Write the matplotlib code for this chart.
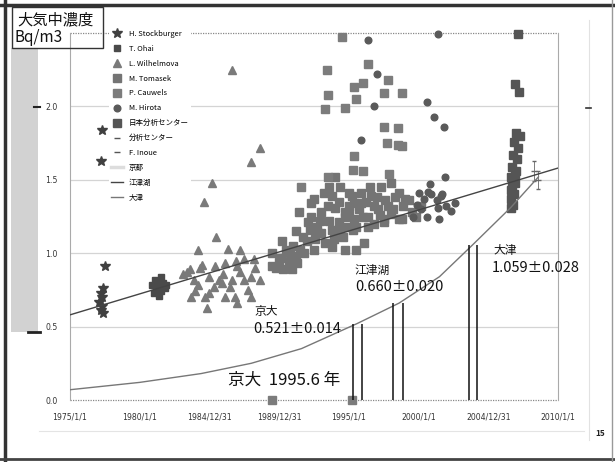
import matplotlib
matplotlib.use("Agg")
import matplotlib.pyplot as plt
from matplotlib.lines import Line2D
from matplotlib.patches import Rectangle

plt.rcParams['font.family'] = ['Noto Sans CJK JP', 'DejaVu Sans']

# ---- data (decimal year, Bq/m3) ----
stock_year = [1977.3, 1977.2, 1977.5, 1977.4, 1977.2, 1977.3, 1977.1, 1977.3, 1977.2, 1977.4]
stock_val = [1.84, 1.63, 0.91, 0.76, 0.73, 0.70, 0.67, 0.64, 0.61, 0.59]

ohai_year = [1980.9, 1981.1, 1981.3, 1981.5, 1981.7, 1981.9, 1981.2, 1981.5, 1981.8, 1981.4, 1981.0]
ohai_val = [0.78, 0.82, 0.80, 0.84, 0.80, 0.78, 0.75, 0.74, 0.76, 0.71, 0.73]

wil_year = [1986.6, 1988.6, 1988.0, 1985.2, 1984.6, 1985.5, 1986.3, 1987.2, 1988.2, 1983.6,
            1984.3, 1985.4, 1986.1, 1987.0, 1987.5, 1983.9, 1985.0, 1985.7, 1985.9, 1986.6,
            1987.5, 1988.0, 1988.6, 1985.3, 1986.5, 1987.8, 1983.7, 1984.7, 1986.1, 1986.8,
            1988.0, 1984.8, 1983.4, 1984.2, 1987.2, 1984.2, 1983.1, 1984.0, 1985.0, 1986.0,
            1987.0, 1988.3, 1984.5, 1986.9]
wil_val = [2.25, 1.72, 1.62, 1.48, 1.35, 1.11, 1.03, 1.02, 0.96, 0.89,
           0.90, 0.91, 0.93, 0.91, 0.96, 0.82, 0.84, 0.82, 0.80, 0.82,
           0.82, 0.84, 0.82, 0.77, 0.77, 0.75, 0.70, 0.70, 0.70, 0.70,
           0.70, 0.63, 0.87, 0.78, 0.87, 1.02, 0.86, 0.74, 0.73, 0.86,
           0.66, 0.90, 0.92, 0.95]

tom_year = [1989.5, 1990.0, 1989.5, 1990.2, 1990.5, 1990.7, 1990.3, 1990.9, 1991.2, 1991.2,
            1991.7, 1991.4, 1992.3, 1992.2, 1992.0, 1991.8, 1992.5, 1992.5, 1992.9, 1993.0,
            1993.3, 1993.2, 1993.8, 1994.0, 1994.3, 1994.3, 1994.7, 1995.0, 1995.2, 1994.6,
            1995.3, 1995.9, 1996.0, 1996.1, 1995.5, 1994.7, 1989.8, 1992.1, 1992.3, 1992.8,
            1993.8, 1993.5, 1995.0, 1995.4, 1995.5, 1996.4, 1996.8, 1997.5, 1998.2, 1998.8,
            1999.5, 2000.2, 1994.0, 1995.0, 1995.9, 1996.6, 1997.3, 1998.0, 1998.6, 1999.0,
            1998.6, 1993.8, 1994.7, 1995.4, 1996.4, 1997.5, 1997.8, 1997.1, 1990.8, 1991.0,
            1991.5, 1992.6, 1993.0, 1993.6, 1993.9, 1994.2, 1994.9, 1995.7, 1996.2, 1996.8,
            1997.0, 1997.6, 1998.3, 1998.9, 1999.3, 1999.8, 1994.4, 1993.6, 1996.5, 1990.1,
            1991.3, 1992.7, 1997.2, 1998.0]
tom_val = [1.00, 0.94, 0.91, 1.08, 1.02, 0.94, 0.89, 0.89, 0.98, 1.15,
           1.11, 1.28, 1.25, 1.16, 1.08, 1.00, 1.02, 1.37, 1.22, 1.14,
           1.07, 1.41, 1.39, 1.31, 1.35, 1.21, 1.25, 1.32, 1.39, 1.11,
           1.16, 1.41, 1.25, 1.07, 1.02, 1.02, 0.90, 1.21, 1.34, 1.14,
           1.04, 1.32, 1.28, 1.34, 1.18, 1.25, 1.32, 1.21, 1.30, 1.23,
           1.28, 1.32, 1.52, 1.41, 1.34, 1.39, 1.45, 1.48, 1.41, 1.37,
           1.23, 1.16, 1.28, 1.23, 1.18, 1.23, 1.32, 1.30, 1.00, 1.05,
           1.02, 1.10, 1.28, 1.22, 1.10, 1.16, 1.18, 1.30, 1.35, 1.20,
           1.38, 1.36, 1.38, 1.32, 1.36, 1.25, 1.45, 1.45, 1.45, 0.97,
           0.93, 1.18, 1.26, 1.27]

cau_year = [1994.5, 1993.4, 1996.4, 1993.5, 1993.3, 1994.7, 1995.4, 1996.0, 1995.5, 1997.8,
            1997.5, 1998.8, 1997.5, 1998.5, 1997.7, 1998.5, 1998.8, 1995.4, 1995.3, 1996.0,
            1997.9, 1993.5, 1991.6, 1989.5, 1995.2]
cau_val = [2.47, 2.25, 2.29, 2.08, 1.98, 1.99, 2.13, 2.16, 2.05, 2.18,
           2.09, 2.09, 1.86, 1.85, 1.75, 1.74, 1.73, 1.66, 1.57, 1.56,
           1.54, 1.52, 1.45, 0.0, 0.0]

hir_year = [1996.4, 1997.0, 1996.8, 1995.9, 2001.4, 2000.6, 2001.1, 2001.8, 2001.9, 2000.8,
            2001.7, 2001.4, 2000.6, 1999.6, 2000.0, 2000.4, 2000.9, 2001.6, 2000.2, 2001.3,
            2002.0, 2002.3, 2001.5, 2002.6, 2000.7, 1999.9]
hir_val = [2.45, 2.22, 2.00, 1.77, 2.49, 2.03, 1.93, 1.86, 1.52, 1.47,
           1.40, 1.31, 1.25, 1.25, 1.41, 1.37, 1.40, 1.39, 1.30, 1.36,
           1.32, 1.29, 1.23, 1.34, 1.42, 1.33]

jcac_year = [2007.1, 2006.9, 2007.2, 2007.0, 2007.3, 2006.85, 2007.1, 2006.8, 2007.07, 2006.7,
             2007.0, 2006.6, 2006.9, 2006.6, 2006.85, 2006.6, 2006.8, 2006.65, 2006.9, 2006.7]
jcac_val = [2.49, 2.15, 2.10, 1.82, 1.80, 1.76, 1.72, 1.67, 1.64, 1.59,
            1.56, 1.52, 1.48, 1.43, 1.40, 1.37, 1.33, 1.31, 1.54, 1.46]

bunseki_year = [2008.3]
bunseki_val = [1.56]
bunseki_err = [0.07]
inoue_year = [2008.6]
inoue_val = [1.50]
inoue_err = [0.06]

# overall linear trend
trend_year = [1975.0, 2010.0]
trend_val = [0.58, 1.58]

# curve through the site measurements
curve_year = [1975.0, 1980.0, 1984.4, 1988.0, 1991.6, 1995.6, 1998.6, 2001.5, 2003.9, 2006.6, 2008.6]
curve_val = [0.07, 0.12, 0.18, 0.25, 0.35, 0.521, 0.660, 0.84, 1.059, 1.31, 1.52]

# sampling bars for the three sites
site_year = [1995.3, 1995.95, 1998.2, 1998.9, 2003.6, 2004.2]
site_val = [0.521, 0.521, 0.660, 0.660, 1.059, 1.059]

xtick_pos = [1975, 1980, 1985, 1990, 1995, 2000, 2005, 2010]
xtick_lab = ['1975/1/1', '1980/1/1', '1984/12/31', '1989/12/31', '1995/1/1', '2000/1/1', '2004/12/31', '2010/1/1']
ytick_pos = [0.0, 0.5, 1.0, 1.5, 2.0]
ytick_lab = ['0.0', '0.5', '1.0', '1.5', '2.0']

fig = plt.figure(figsize=(6.15, 4.62), dpi=100)
W, H = 615, 462

def fx(px):
    return px / W

def fy(py):
    return 1 - py / H

# slide decorations
fig.add_artist(Line2D([fx(0), fx(615)], [fy(5), fy(5)], color='#333333', lw=2.5))
fig.add_artist(Line2D([fx(5), fx(5)], [fy(0), fy(462)], color='#333333', lw=2.5))
fig.add_artist(Line2D([fx(0), fx(615)], [fy(459), fy(459)], color='#444444', lw=2.0))
fig.add_artist(Line2D([fx(612), fx(612)], [fy(0), fy(462)], color='#999999', lw=1.0))
fig.add_artist(Line2D([fx(589), fx(589)], [fy(20), fy(440)], color='#e2e2e2', lw=0.8))
fig.add_artist(Line2D([fx(586), fx(591)], [fy(108), fy(108)], color='#333333', lw=1.2))
fig.add_artist(Line2D([fx(39), fx(584)], [fy(431), fy(431)], color='#e4e4e4', lw=0.8))
fig.add_artist(Rectangle((fx(11), fy(332)), fx(27), fy(48) - fy(332), color='#d2d2d2', lw=0))
fig.add_artist(Line2D([fx(28), fx(40)], [fy(332), fy(332)], color='#222222', lw=2))
fig.add_artist(Line2D([fx(34), fx(40)], [fy(107), fy(107)], color='#222222', lw=1.5))
fig.text(fx(600), fy(433), '15', fontsize=6, ha='center', va='center', color='#222222', weight='bold')

ax = fig.add_axes([fx(70), fy(400), fx(558) - fx(70), fy(33) - fy(400)])
ax.set_xlim(1975, 2010)
ax.set_ylim(0, 2.5)

for v in [0.5, 1.0, 1.5, 2.0]:
    ax.axhline(v, color='#d4d4d4', lw=0.9, zorder=0)
ax.axhline(2.5, color='#888888', lw=0.9, ls=(0, (1, 1)), zorder=0, clip_on=False)
ax.axhline(0.0, color='#888888', lw=0.9, ls=(0, (1, 1)), zorder=0, clip_on=False)

for s in ['top', 'bottom']:
    ax.spines[s].set_visible(False)
for s in ['left', 'right']:
    ax.spines[s].set_color('#aaaaaa')
    ax.spines[s].set_linewidth(0.8)

ax.set_xticks(xtick_pos)
ax.set_xticklabels(xtick_lab, fontsize=5.6, color='#333333', family='DejaVu Sans')
ax.set_yticks(ytick_pos)
ax.set_yticklabels(ytick_lab, fontsize=5.6, color='#333333', family='DejaVu Sans')
ax.tick_params(length=0, pad=9)

ms = 6.3
h1, = ax.plot(stock_year, stock_val, ls='none', marker='*', ms=7, color='#404040', label='H. Stockburger', zorder=4)
h2, = ax.plot(ohai_year, ohai_val, ls='none', marker='s', ms=5, color='#4a4a4a', label='T. Ohai', zorder=4)
h3, = ax.plot(wil_year, wil_val, ls='none', marker='^', ms=6, color='#7a7a7a', label='L. Wilhelmova', zorder=3)
h4, = ax.plot(tom_year, tom_val, ls='none', marker='s', ms=ms, color='#747474', label='M. Tomasek', zorder=3)
h5, = ax.plot(cau_year, cau_val, ls='none', marker='s', ms=ms, color='#7c7c7c', label='P. Cauwels', zorder=3, clip_on=False)
h6, = ax.plot(hir_year, hir_val, ls='none', marker='o', ms=4.8, color='#5a5a5a', label='M. Hirota', zorder=4, clip_on=False)
h7, = ax.plot(jcac_year, jcac_val, ls='none', marker='s', ms=ms, color='#555555', label='日本分析センター', zorder=4, clip_on=False)
ax.errorbar(bunseki_year, bunseki_val, yerr=bunseki_err, fmt='_', ms=5, color='#666666', elinewidth=0.6, capsize=1.5, zorder=5)
ax.errorbar(inoue_year, inoue_val, yerr=inoue_err, fmt='_', ms=5, color='#666666', elinewidth=0.6, capsize=1.5, zorder=5)
h8 = Line2D([], [], ls='none', marker='_', ms=4, color='#555555', label='分析センター')
h9 = Line2D([], [], ls='none', marker='_', ms=4, color='#555555', label='F. Inoue')
h10 = Line2D([], [], color='#dddddd', lw=2.5, label='京都')
h11, = ax.plot(trend_year, trend_val, color='#444444', lw=1.0, label='江津湖', zorder=5)
h12, = ax.plot(curve_year, curve_val, color='#777777', lw=1.0, label='大津', zorder=5)

ax.vlines(site_year, 0, site_val, color='#111111', lw=1.1, zorder=6)

leg = ax.legend(handles=[h1, h2, h3, h4, h5, h6, h7, h8, h9, h10, h11, h12],
                loc='upper left', bbox_to_anchor=((105 - 70) / (558 - 70), 1.025),
                fontsize=5.4, frameon=True, framealpha=1, edgecolor='none', facecolor='white',
                labelspacing=0.92, handlelength=1.6, handletextpad=0.8, borderpad=0.3)
leg.set_zorder(7)

num = dict(fontsize=10.5, color='#111111', ha='center', va='center', zorder=8, clip_on=False)
cjk = dict(fontsize=8.5, color='#111111', ha='center', va='center', zorder=8, clip_on=False)
ax.text(1989.06, 0.606, '京大', **cjk)
ax.text(1991.3, 0.484, '0.521±0.014', **num)
ax.text(1996.66, 0.886, '江津湖', **cjk)
ax.text(1998.6, 0.770, '0.660±0.020', **num)
ax.text(2006.2, 1.020, '大津', **cjk)
ax.text(2008.4, 0.900, '1.059±0.028', **num)
ax.text(1990.35, 0.136, '京大  1995.6 年', fontsize=12, color='#111111', ha='center', va='center', zorder=8)

# title box
fig.text(fx(55), fy(20), '大気中濃度', fontsize=11, ha='center', va='center', color='#111111')
fig.text(fx(14), fy(37), 'Bq/m3', fontsize=11, ha='left', va='center', color='#111111')
fig.add_artist(Rectangle((fx(12), fy(48)), fx(91), fy(7) - fy(48), fill=False, ec='#333333', lw=1.0))

fig.savefig('out.png', dpi=100)
